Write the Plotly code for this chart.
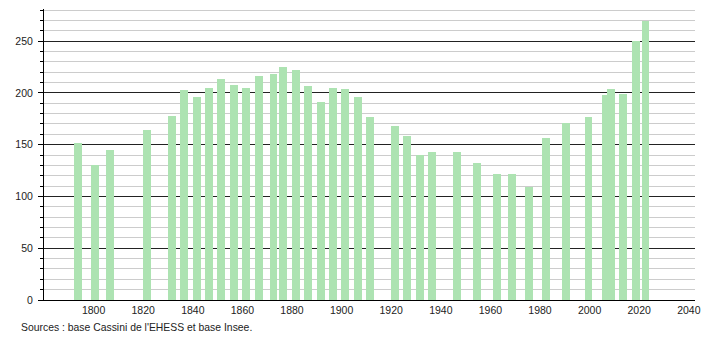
import plotly.graph_objects as go

years = [1793, 1800, 1806, 1821, 1831, 1836, 1841, 1846, 1851, 1856,
         1861, 1866, 1872, 1876, 1881, 1886, 1891, 1896, 1901, 1906,
         1911, 1921, 1926, 1931, 1936, 1946, 1954, 1962, 1968, 1975,
         1982, 1990, 1999, 2006, 2008, 2013, 2018, 2022]
population = [152, 130, 145, 164, 178, 203, 196, 205, 213, 208,
              205, 216, 218, 225, 222, 207, 191, 205, 204, 196,
              177, 168, 158, 140, 143, 143, 132, 122, 122, 109,
              156, 171, 177, 198, 204, 199, 250, 269]
x_ticks = [1800, 1820, 1840, 1860, 1880, 1900, 1920, 1940, 1960, 1980, 2000, 2020, 2040]
y_ticks = [0, 50, 100, 150, 200, 250]
source_text = "Sources : base Cassini de l'EHESS et base Insee."

fig = go.Figure()
fig.add_trace(go.Bar(
    x=years, y=population,
    width=3.2, offset=-1.05,
    marker=dict(color="#ade3b2", line=dict(width=0)),
    hoverinfo="x+y",
))

fig.update_layout(
    width=710, height=340,
    margin=dict(l=44, r=10, t=9, b=40),
    paper_bgcolor="white", plot_bgcolor="white",
    font=dict(family="Liberation Sans, Arial, sans-serif", size=11, color="#222"),
    showlegend=False,
    bargap=0,
)
fig.update_xaxes(
    range=[1780, 2042.5],
    tickvals=x_ticks,
    showgrid=False, zeroline=False,
    showline=True, linecolor="black", linewidth=1,
    ticks="", tickfont=dict(size=10.5, color="#222"),
)
fig.update_yaxes(
    range=[0, 281],
    tickvals=y_ticks,
    showgrid=True, gridcolor="#222", gridwidth=1,
    zeroline=False,
    showline=True, linecolor="black", linewidth=1,
    ticks="outside", ticklen=5, tickcolor="black",
    ticklabelstandoff=3,
    tickfont=dict(size=10.5, color="#222"),
    minor=dict(dtick=10, showgrid=True, gridcolor="#cccccc", gridwidth=1,
               ticks="outside", ticklen=3, tickcolor="black"),
)
fig.add_annotation(
    text=source_text, xref="paper", yref="paper",
    x=-0.039, y=-0.07, xanchor="left", yanchor="top",
    showarrow=False, font=dict(size=10.4, color="#222"),
)
fig.write_html("out.html")
